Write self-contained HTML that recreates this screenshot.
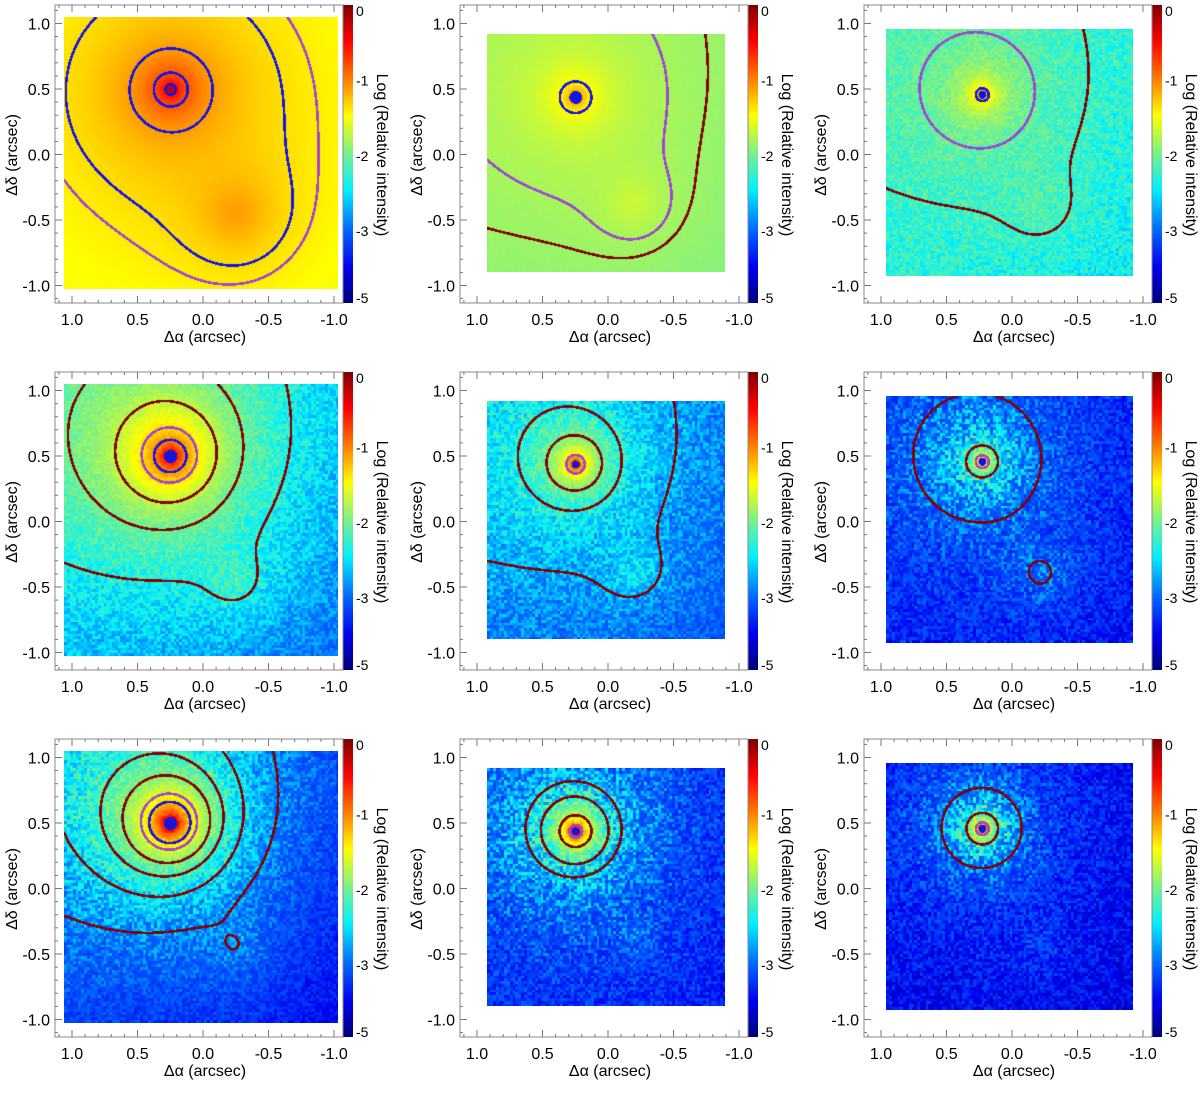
<!DOCTYPE html>
<html><head><meta charset="utf-8">
<style>
html,body{margin:0;padding:0;background:#fff;}
body{width:1200px;height:1077px;position:relative;overflow:hidden;font-family:"Liberation Sans",sans-serif;}
.panel{position:absolute;width:400px;height:359px;}
.panel canvas{position:absolute;}
.panel svg{position:absolute;left:0;top:0;}
</style></head>
<body>
<div id="root"></div>
<script>
const colX=[0,405,809];
const rowY=[0,367,734];
const coreWidth=[0.02,0.003,0.002,0.027,0.0093,0.004,0.036,0.018,0.01];
const slope=[1,1,1,1.5,1.5,1.5,2,2,2];
const background=[0.02,0.012,0.004,0.0008,0.001,0.0001,0.0002,0.0002,0.00008];
const companion=[0.04,0.008,0.003,0.006,0.003,0.001,0.002,0.0005,0.0002];
const companionWidth=[0.25,0.2,0.2,0.18,0.18,0.18,0.18,0.15,0.15];
const noiseAmp=[0,0.05,0.25,0.25,0.3,0.5,0.35,0.5,0.55];
const tilt=[0,0.05,0.1,0.3,0.3,0.2,0.5,0.2,0.1];
const extent=[[1.06,-1.03,1.05,-1.03],[0.92,-0.89,0.92,-0.9],[0.96,-0.92,0.96,-0.93]];
const primary=[[0.25,0.5],[0.25,0.44],[0.23,0.46]];
const second=[[-0.25,-0.45],[-0.2,-0.38],[-0.22,-0.4]];
const contourR=[[0.04,0.13,0.32,0.85,1.1],[0.04,0.12,0.7,1.0],[0.05,0.4,0.8],
 [0.04,0.12,0.2,0.35,0.55,0.9],[0.07,0.2,0.35,0.75],[0.05,0.12,0.45],
 [0.04,0.15,0.2,0.3,0.4,0.55,0.8],[0.05,0.12,0.25,0.35],[0.05,0.12,0.3]];
const contourC=[["b","b","b","b","p"],["b","b","p","r"],["b","p","r"],
 ["b","b","p","r","r","r"],["p","r","r","r"],["p","r","r"],
 ["b","b","p","r","r","r","r"],["p","r","r","r"],["p","r","r"]];
const cbTicks=[0,-1,-2,-3,-5];
const axTicks=[1.0,0.5,0.0,-0.5,-1.0];
const COL={b:[20,20,230],p:[160,70,210],r:[130,0,0]};

const FX0=55,FX1=343,FY0=5,FY1=303;
function sx(v){return 203-131*v;}
function sy(v){return 154.5-131*v;}
const jet=[[0,[128,0,0]],[0.12,[255,0,0]],[0.25,[255,128,0]],[0.37,[255,255,0]],[0.5,[120,240,140]],[0.62,[0,240,255]],[0.75,[0,110,255]],[0.88,[0,0,240]],[1,[0,0,125]]];
function vToT(v){let t=v>=-3?-v*0.253:0.76+(-3-v)/2*0.24;return Math.max(0,Math.min(1,t));}
function cmap(t){for(let i=1;i<jet.length;i++){if(t<=jet[i][0]){const a=jet[i-1],b=jet[i],f=(t-a[0])/(b[0]-a[0]);return [0,1,2].map(k=>a[1][k]+(b[1][k]-a[1][k])*f);}}return jet[jet.length-1][1];}
function hash(i,j,s){let h=(i*374761393+j*668265263+s*982451653)|0;h=(h^(h>>>13))*1274126177|0;h=h^(h>>>16);return ((h>>>0)%10000)/10000;}

const root=document.getElementById('root');
const NS='http://www.w3.org/2000/svg';
for(let p=0;p<9;p++){
  const r=Math.floor(p/3),c=p%3;
  const div=document.createElement('div');div.className='panel';
  
  
  div.style.left=colX[c]+'px';div.style.top=rowY[r]+'px';
  root.appendChild(div);
  const [ex0,ex1,ey0,ey1]=extent[c];
  const px0=Math.round(sx(ex0)),px1=Math.round(sx(ex1)),py0=Math.round(sy(ey0)),py1=Math.round(sy(ey1));
  const W=px1-px0,H=py1-py0;
  const cv=document.createElement('canvas');cv.width=W;cv.height=H;
  cv.style.left=px0+'px';cv.style.top=py0+'px';
  
  
  div.appendChild(cv);
  const ctx=cv.getContext('2d');const img=ctx.createImageData(W,H);
  const [x1,y1]=primary[c],[x2,y2]=second[c];
  const w=coreWidth[p],sl=slope[p],bg=background[p],k2=companion[p],w2=companionWidth[p];
  function field(x,y){const r1=Math.hypot(x-x1,y-y1),r2=Math.hypot(x-x2,y-y2);
    const I=1/(1+Math.pow(r1/w,sl))+k2/(1+Math.pow(r2/w2,2))+bg;
    return Math.log10(I)+tilt[p]*((x-x1)+(y-y1))/2;}
  const F=new Float32Array(W*H);
  for(let j=0;j<H;j++)for(let i=0;i<W;i++){const x=(203-(px0+i))/131,y=(154.5-(py0+j))/131;F[j*W+i]=field(x,y);}
  const levels=contourR[p].map(rr=>field(x1-rr,y1));
  const cols=contourC[p];
  for(let j=0;j<H;j++)for(let i=0;i<W;i++){
    const f=F[j*W+i];
    const nz=(hash(Math.floor(i/2.8),Math.floor(j/2.8),p)-0.5)*2*noiseAmp[p]*Math.min(1,Math.max(0,(-1.8-f))*1.2+0.3);
    let rgb=cmap(vToT(f+nz));
    const gx=(F[j*W+Math.min(W-1,i+1)]-F[j*W+Math.max(0,i-1)])/2,gy=(F[Math.min(H-1,j+1)*W+i]-F[Math.max(0,j-1)*W+i])/2;
    const g=Math.hypot(gx,gy)+1e-9;
    for(let k=0;k<levels.length;k++){if(Math.abs(f-levels[k])/g<1.3){rgb=COL[cols[k]];break;}}
    const x=(203-(px0+i))/131,y=(154.5-(py0+j))/131;
    if(p>0&&Math.hypot(x-x1,y-y1)<0.03)rgb=[20,20,220];
    const o=(j*W+i)*4;img.data[o]=rgb[0];img.data[o+1]=rgb[1];img.data[o+2]=rgb[2];img.data[o+3]=255;}
  ctx.putImageData(img,0,0);
  const cb=document.createElement('canvas');cb.width=10;cb.height=FY1-FY0;
  cb.style.left=FX1+'px';cb.style.top=FY0+'px';
  
  
  div.appendChild(cb);
  const cx=cb.getContext('2d');
  for(let j=0;j<cb.height;j++){const rgb=cmap(j/(cb.height-1));cx.fillStyle='rgb('+rgb.map(Math.round).join(',')+')';cx.fillRect(0,j,10,1);}
  const svg=document.createElementNS(NS,'svg');svg.setAttribute('width',400);svg.setAttribute('height',359);
  div.appendChild(svg);
  let s='<rect x="'+FX0+'" y="'+FY0+'" width="'+(FX1-FX0)+'" height="'+(FY1-FY0)+'" fill="none" stroke="#888" stroke-width="1"/>';
  for(let v=-1.1;v<=1.1001;v+=0.1){const major=Math.abs(v*2-Math.round(v*2))<1e-6;const L=major?7:3;
    const X=sx(v),Y=sy(v);
    if(X>FX0&&X<FX1) s+='<line x1="'+X+'" y1="'+FY1+'" x2="'+X+'" y2="'+(FY1-L)+'" stroke="#777"/><line x1="'+X+'" y1="'+FY0+'" x2="'+X+'" y2="'+(FY0+L)+'" stroke="#777"/>';
    if(Y>FY0&&Y<FY1) s+='<line x1="'+FX0+'" y1="'+Y+'" x2="'+(FX0+L)+'" y2="'+Y+'" stroke="#777"/>';}
  axTicks.forEach(v=>{s+='<text x="'+sx(v)+'" y="325" font-size="16" text-anchor="middle">'+v.toFixed(1)+'</text>';
    s+='<text x="50" y="'+(sy(v)+6)+'" font-size="16" text-anchor="end">'+v.toFixed(1)+'</text>';});
  s+='<text x="205" y="342" font-size="16" text-anchor="middle">Δα (arcsec)</text>';
  s+='<text transform="translate(17,155) rotate(-90)" font-size="16" text-anchor="middle">Δδ (arcsec)</text>';
  cbTicks.forEach(v=>{const y=FY0+vToT(v)*(FY1-FY0);s+='<text x="356" y="'+Math.min(FY1,Math.max(FY0+11,y+5))+'" font-size="14">'+v+'</text>';});
  s+='<text transform="translate(377,155) rotate(90)" font-size="16" text-anchor="middle">Log (Relative intensity)</text>';
  svg.innerHTML=s;
}
</script>
</body></html>
